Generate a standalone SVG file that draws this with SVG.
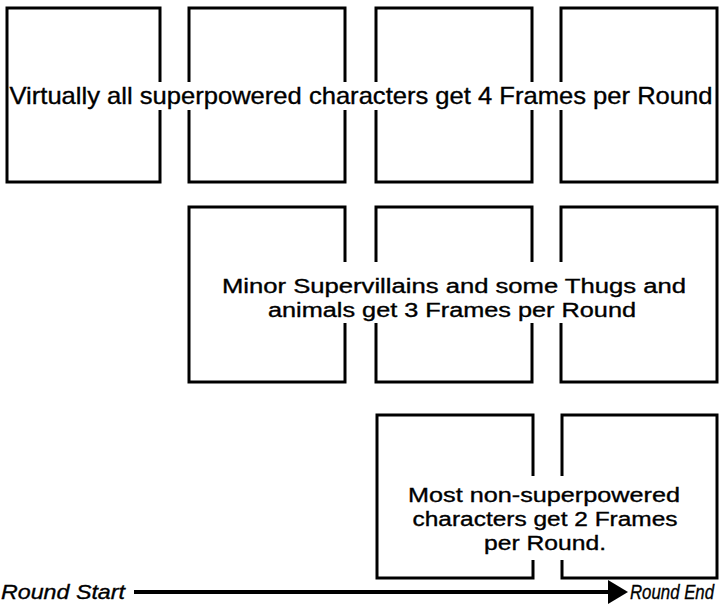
<svg xmlns="http://www.w3.org/2000/svg" width="720" height="604" viewBox="0 0 720 604">
<defs>
<style>
.box{fill:none;stroke:#000;stroke-width:3}
.ko{fill:#fff}
.t{font-family:"Liberation Sans",Arial,sans-serif;font-size:20px;fill:#000;stroke:#000;stroke-width:0.35;text-anchor:middle}
.big{font-size:24px}
.lab{font-family:"Liberation Sans",Arial,sans-serif;font-size:21px;font-style:italic;fill:#000;stroke:#000;stroke-width:0.35}
</style>
<marker id="ah" markerWidth="6" markerHeight="6" refX="0" refY="3" orient="auto" markerUnits="strokeWidth">
<path d="M0,0 L5,3 L0,6 Z" fill="#000"/>
</marker>
</defs>
<rect width="720" height="604" fill="#fff"/>
<g id="row1">
<rect class="box" x="7" y="8" width="153" height="174"/>
<rect class="box" x="189" y="8" width="156" height="174"/>
<rect class="box" x="376" y="8" width="156" height="174"/>
<rect class="box" x="561" y="8" width="156" height="174"/>
</g>
<g id="row2">
<rect class="box" x="189" y="207" width="156" height="175"/>
<rect class="box" x="376" y="207" width="156" height="175"/>
<rect class="box" x="561" y="207" width="156" height="175"/>
</g>
<g id="row3">
<rect class="box" x="377" y="415" width="156" height="163"/>
<rect class="box" x="562" y="415" width="155" height="163"/>
</g>
<g id="label4">
<rect class="ko" x="10" y="82" width="703" height="28"/>
<text class="t big" x="361" y="104" textLength="703" lengthAdjust="spacingAndGlyphs">Virtually all superpowered characters get 4 Frames per Round</text>
</g>
<g id="label3">
<rect class="ko" x="218" y="262" width="472" height="61"/>
<text class="t" x="454" y="293" textLength="464" lengthAdjust="spacingAndGlyphs">Minor Supervillains and some Thugs and</text>
<text class="t" x="452" y="317" textLength="368" lengthAdjust="spacingAndGlyphs">animals get 3 Frames per Round</text>
</g>
<g id="label2">
<rect class="ko" x="404" y="476" width="280" height="84"/>
<text class="t" x="544" y="502" textLength="272" lengthAdjust="spacingAndGlyphs">Most non-superpowered</text>
<text class="t" x="545" y="526" textLength="265" lengthAdjust="spacingAndGlyphs">characters get 2 Frames</text>
<text class="t" x="545" y="550" textLength="122" lengthAdjust="spacingAndGlyphs">per Round.</text>
</g>
<g id="connectors">
<line x1="134" y1="592" x2="608" y2="592" stroke="#000" stroke-width="4" marker-end="url(#ah)"/>
</g>
<g id="timeline-labels">
<text class="lab" x="1" y="599" textLength="124" lengthAdjust="spacingAndGlyphs">Round Start</text>
<text class="lab" transform="translate(630,599) scale(0.8,1)" x="0" y="0">Round End</text>
</g>
</svg>
